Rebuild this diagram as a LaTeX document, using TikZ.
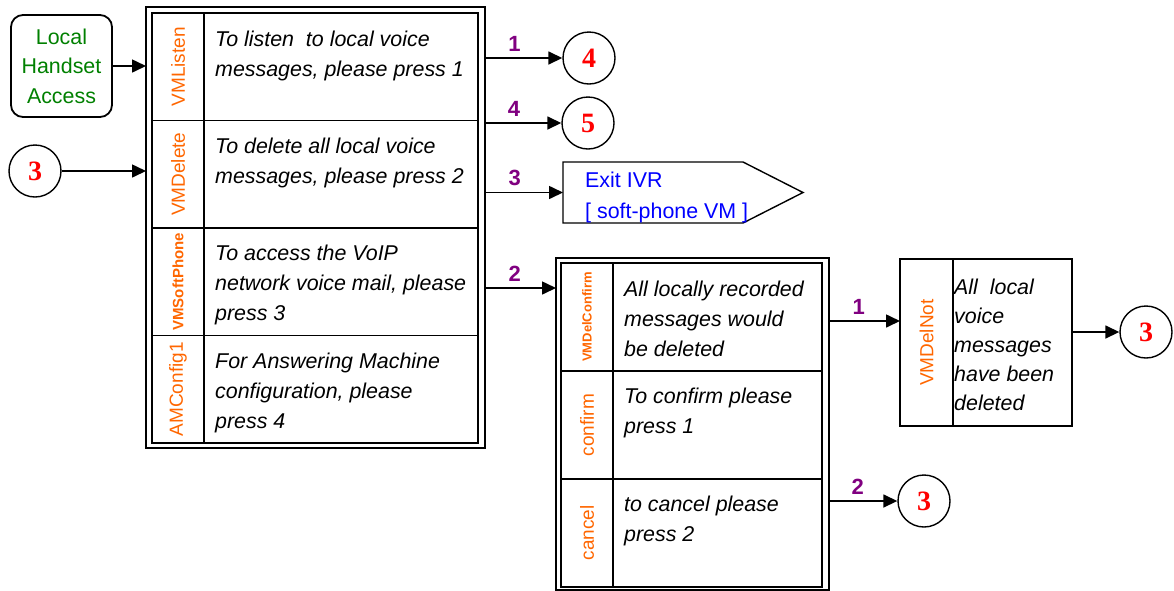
\documentclass[tikz,border=0pt]{standalone}
\usepackage{fontspec}
\setmainfont{Liberation Sans}
\newfontfamily\numfont{Liberation Serif}
\usetikzlibrary{arrows.meta,calc}
\definecolor{orng}{RGB}{255,102,0}
\definecolor{grn}{RGB}{0,128,0}
\definecolor{blu}{RGB}{0,0,255}
\definecolor{purp}{RGB}{128,0,128}
\definecolor{rd}{RGB}{255,0,0}
\begin{document}
\begin{tikzpicture}[x=1pt,y=-1pt,
  outerbox/.style={draw, line width=1.2pt, inner sep=0pt, outer sep=0pt},
  cell/.style={draw, line width=1.9pt, inner sep=0pt, outer sep=0pt},
  thincell/.style={draw, line width=1.4pt, inner sep=0pt, outer sep=0pt},
  txt/.style={font=\fontsize{21.4}{30}\selectfont\itshape, align=left, inner sep=0pt, anchor=north west},
  lab/.style={font=\fontsize{19}{19}\selectfont, text=orng, inner sep=0pt, rotate=90},
  labb/.style={text=orng, inner sep=0pt, rotate=90},
  circ/.style={draw, circle, line width=1.4pt, minimum size=52pt, inner sep=0pt,
     font=\numfont\bfseries\fontsize{28}{28}\selectfont, text=rd},
  arr/.style={draw, line width=1.6pt, -{Triangle[length=14pt,width=13pt]}},
  num/.style={font=\bfseries\fontsize{22}{22}\selectfont, text=purp, inner sep=0pt}
]
\useasboundingbox (0,0) rectangle (1174,590);

% Local handset access
\node[draw, line width=1.8pt, rounded corners=12pt, minimum width=101pt, minimum height=102pt,
  inner sep=0pt, outer sep=0pt, align=center, text=grn,
  font=\fontsize{21.4}{29.5}\selectfont] (lha) at (61.5,66) {Local\\Handset\\Access};

% left circle 3
\node[circ] (c3a) at (35,171) {3};

% main menu box
\node[outerbox, minimum width=339pt, minimum height=441pt] (mainout) at (315.5,227.5) {};
\node[cell, minimum width=52pt, minimum height=107.5pt] (l1) at (178,66.75) {};
\node[cell, minimum width=274pt, minimum height=107.5pt] (t1) at (341,66.75) {};
\node[cell, minimum width=52pt, minimum height=107.5pt] (l2) at (178,174.25) {};
\node[cell, minimum width=274pt, minimum height=107.5pt] (t2) at (341,174.25) {};
\node[cell, minimum width=52pt, minimum height=107.5pt] (l3) at (178,281.75) {};
\node[cell, minimum width=274pt, minimum height=107.5pt] (t3) at (341,281.75) {};
\node[cell, minimum width=52pt, minimum height=107.5pt] (l4) at (178,389.25) {};
\node[cell, minimum width=274pt, minimum height=107.5pt] (t4) at (341,389.25) {};

\node[lab] (l1t) at (l1) {VMListen};
\node[lab] (l2t) at (l2) {VMDelete};
\node[labb, font=\bfseries\fontsize{15}{15}\selectfont] (l3t) at (l3) {VMSoftPhone};
\node[lab] (l4t) at (l4) {AMConfig1};

\node[txt] (t1t) at ($(t1.north west)+(11,17.5)$) {To listen\ \ to local voice\\messages, please press 1};
\node[txt] (t2t) at ($(t2.north west)+(11,17.5)$) {To delete all local voice\\messages, please press 2};
\node[txt] (t3t) at ($(t3.north west)+(11,17)$) {To access the VoIP\\network voice mail, please\\press 3};
\node[txt] (t4t) at ($(t4.north west)+(11,17)$) {For Answering Machine\\configuration, please\\press 4};

% right side targets of main menu
\node[circ] (c4) at (589,58) {4};
\node[circ] (c5) at (588,123) {5};
\node[inner sep=0pt, outer sep=0pt, minimum width=240pt, minimum height=61pt] (exit) at (683,192.5) {};
\draw[line width=1.4pt] (exit.north west) -- ($(exit.north east)+(-60,0)$) -- (exit.east)
   -- ($(exit.south east)+(-60,0)$) -- (exit.south west) -- cycle;
\node[font=\fontsize{21.4}{31}\selectfont, text=blu, align=left, inner sep=0pt, anchor=north west]
   (exitt) at ($(exit.north west)+(22,9.5)$) {Exit IVR\\{[} soft-phone VM {]}};

% confirm box
\node[outerbox, minimum width=273pt, minimum height=332pt] (cfout) at (692.5,424) {};
\node[cell, minimum width=52pt, minimum height=108pt] (cl1) at (587,317) {};
\node[cell, minimum width=209pt, minimum height=108pt] (ct1) at (717.5,317) {};
\node[cell, minimum width=52pt, minimum height=108pt] (cl2) at (587,425) {};
\node[cell, minimum width=209pt, minimum height=108pt] (ct2) at (717.5,425) {};
\node[cell, minimum width=52pt, minimum height=108pt] (cl3) at (587,533) {};
\node[cell, minimum width=209pt, minimum height=108pt] (ct3) at (717.5,533) {};

\node[labb, font=\bfseries\fontsize{13}{13}\selectfont] (cl1t) at (cl1) {VMDelConfirm};
\node[lab] (cl2t) at (cl2) {confirm};
\node[lab] (cl3t) at (cl3) {cancel};

\node[txt] (ct1t) at ($(ct1.north west)+(11,17.5)$) {All locally recorded\\messages would\\be deleted};
\node[txt] (ct2t) at ($(ct2.north west)+(11,17)$) {To confirm please\\press 1};
\node[txt] (ct3t) at ($(ct3.north west)+(11,17)$) {to cancel please\\press 2};

% VMDelNot box
\node[thincell, minimum width=53pt, minimum height=167pt] (dl) at (926.5,342.5) {};
\node[thincell, minimum width=119pt, minimum height=167pt] (dt) at (1012.5,342.5) {};
\node[lab] (dlt) at (dl) {VMDelNot};
\node[txt, font=\fontsize{21.4}{29}\selectfont\itshape] (dtt) at ($(dt.north west)+(1,20)$)
   {All\ \ local\\voice\\messages\\have been\\deleted};

\node[circ] (c3b) at (1146,332) {3};
\node[circ] (c3c) at (924,501) {3};

% connectors
\draw[arr] (lha.east) -- (lha.east -| mainout.west);
\draw[arr] (c3a.east) -- (c3a.east -| mainout.west);
\draw[arr] (c4.west -| mainout.east) -- node[num, pos=0.38, above=6pt] {1} (c4.west);
\draw[arr] (c5.west -| mainout.east) -- node[num, pos=0.38, above=6pt] {4} (c5.west);
\draw[arr] (exit.west -| mainout.east) -- node[num, pos=0.38, above=6pt] {3} (exit.west);
\coordinate (a2e) at ($(cfout.north west)+(0,30)$);
\draw[arr] (a2e -| mainout.east) -- node[num, pos=0.42, above=6pt] {2} (a2e);
\coordinate (a1e) at ($(dl.west)+(0,-21.5)$);
\draw[arr] (a1e -| cfout.east) -- node[num, pos=0.42, above=6pt] {1} (a1e);
\draw[arr] (c3b.west -| dt.east) -- (c3b.west);
\draw[arr] (c3c.west -| cfout.east) -- node[num, pos=0.42, above=6pt] {2} (c3c.west);
\end{tikzpicture}
\end{document}
